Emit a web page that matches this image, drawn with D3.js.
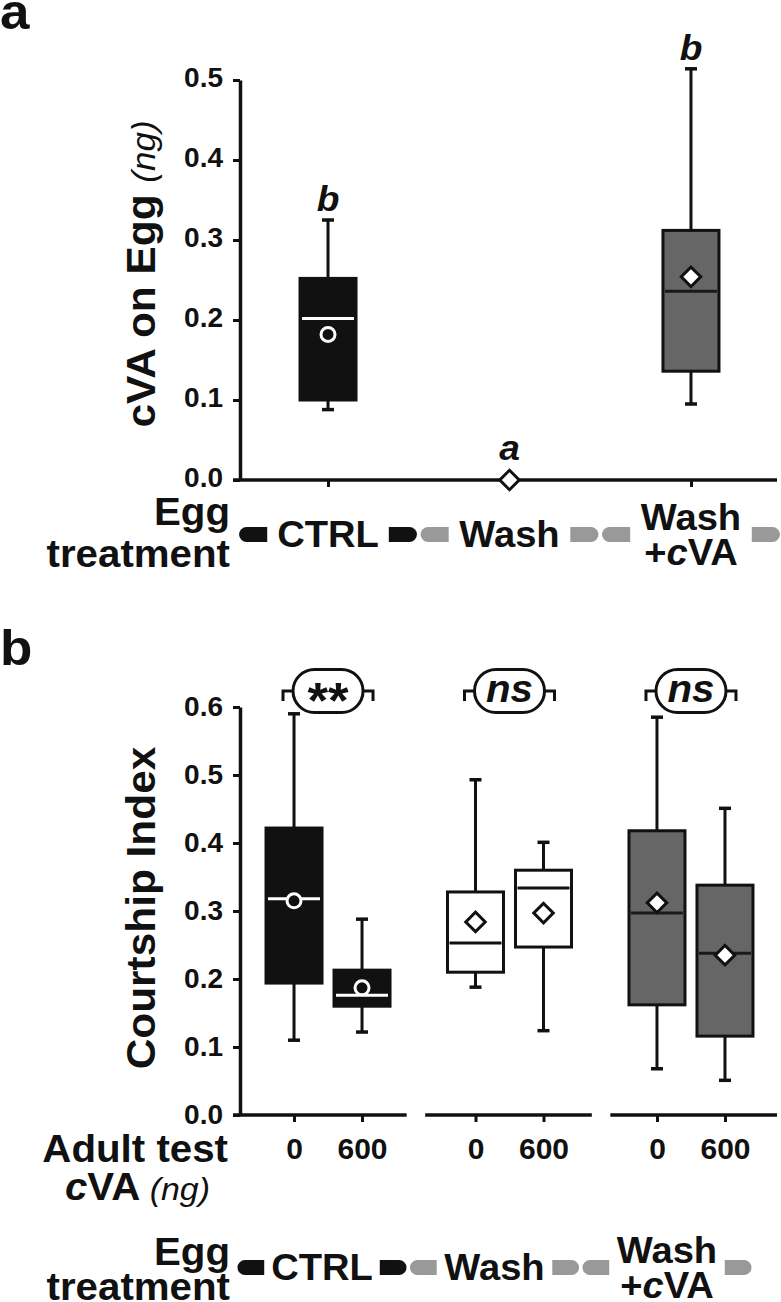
<!DOCTYPE html>
<html>
<head>
<meta charset="utf-8">
<script src="https://cdn.jsdelivr.net/npm/d3@7"></script>
<style>
    body { margin: 0; background: #fff; }
    svg text { font-family: "Liberation Sans", Arial, Helvetica, sans-serif; fill: #111; }
</style>
</head>
<body>
<div id="chart"></div>
<script>
// Egg treatments (shared by both panels)
var treatments = ['CTRL', 'Wash', 'Wash+cVA'];
var treatment_lines = [['CTRL'], ['Wash'], ['Wash', '+cVA']];

// Panel a: cVA on egg (ng), box stats per treatment
var egg_low    = [0.088, 0, 0.095];
var egg_q1     = [0.100, 0, 0.136];
var egg_median = [0.202, 0, 0.236];
var egg_q3     = [0.252, 0, 0.312];
var egg_high   = [0.325, 0, 0.514];
var egg_mean   = [0.182, 0, 0.254];
var egg_letters = ['b', 'a', 'b'];
var egg_ticks  = [0, 0.1, 0.2, 0.3, 0.4, 0.5];

// Panel b: courtship index, 0 / 600 ng adult cVA within each egg treatment
var doses       = ['0', '600'];
var ci_low      = [0.110, 0.122, 0.188, 0.124, 0.068, 0.051];
var ci_q1       = [0.194, 0.160, 0.210, 0.247, 0.162, 0.116];
var ci_median   = [0.318, 0.176, 0.253, 0.334, 0.297, 0.238];
var ci_q3       = [0.422, 0.213, 0.328, 0.360, 0.418, 0.338];
var ci_high     = [0.590, 0.288, 0.493, 0.401, 0.585, 0.451];
var ci_mean     = [0.315, 0.187, 0.284, 0.297, 0.312, 0.235];
var ci_sig      = ['**', 'ns', 'ns'];
var ci_ticks    = [0, 0.1, 0.2, 0.3, 0.4, 0.5, 0.6];

// Styles per treatment
var box_fills     = ['#111111', '#ffffff', '#666666'];
var median_colors = ['#ffffff', '#111111', '#1a1a1a'];
var mean_markers  = ['circle', 'diamond', 'diamond'];
var pill_colors   = ['#111111', '#999999', '#999999'];

var text_stretch = 1.06;
var box_w = 56;
var cap_w = 12;

var svg = d3.select('#chart')
    .append('svg')
    .attr('width', 781)
    .attr('height', 1302);

function add_text(parent, x, y, size, anchor, rotate) {
    var tr = 'translate(' + x + ',' + y + ')' + (rotate ? ' rotate(' + rotate + ')' : '') +
        ' scale(' + text_stretch + ',1)';
    return parent.append('text')
        .attr('transform', tr)
        .attr('text-anchor', anchor || 'middle')
        .style('font-size', size + 'px')
        .style('font-weight', 'bold');
}

// writes a string, putting the c of "cVA" in italics
function write_cva(text, str) {
    var parts = str.split('cVA');
    parts.forEach(function(p, i) {
        if (p) text.append('tspan').text(p);
        if (i < parts.length - 1) {
            text.append('tspan').style('font-style', 'italic').text('c');
            text.append('tspan').text('VA');
        }
    });
    return text;
}

function style_axis(g, size) {
    g.select('.domain').attr('stroke', '#111').attr('stroke-width', 3.5);
    g.selectAll('.tick line').attr('stroke', '#111').attr('stroke-width', 3);
    g.selectAll('.tick text')
        .style('font-size', size + 'px')
        .style('font-weight', 'bold')
        .attr('fill', '#111');
}

function draw_box(g, cx, y, d, i) {
    var half = box_w / 2;
    var line_col = '#111';
    if (d.q3 > d.q1) {
        // whiskers
        [[d.q3, d.high], [d.q1, d.low]].forEach(function(w) {
            g.append('line')
                .attr('x1', cx).attr('x2', cx)
                .attr('y1', y(w[0])).attr('y2', y(w[1]))
                .attr('stroke', line_col).attr('stroke-width', 3);
            g.append('line')
                .attr('x1', cx - cap_w / 2).attr('x2', cx + cap_w / 2)
                .attr('y1', y(w[1])).attr('y2', y(w[1]))
                .attr('stroke', line_col).attr('stroke-width', 3.5);
        });
        g.append('rect')
            .attr('x', cx - half)
            .attr('y', y(d.q3))
            .attr('width', box_w)
            .attr('height', y(d.q1) - y(d.q3))
            .attr('fill', box_fills[i])
            .attr('stroke', line_col)
            .attr('stroke-width', 3);
        g.append('line')
            .attr('x1', cx - half + 2).attr('x2', cx + half - 2)
            .attr('y1', y(d.median)).attr('y2', y(d.median))
            .attr('stroke', median_colors[i]).attr('stroke-width', 3);
    }
    // mean marker
    if (mean_markers[i] === 'circle') {
        g.append('circle')
            .attr('cx', cx).attr('cy', y(d.mean)).attr('r', 7)
            .attr('fill', '#111').attr('stroke', '#fff').attr('stroke-width', 3);
    } else {
        g.append('path')
            .attr('d', d3.symbol().type(d3.symbolSquare).size(190)())
            .attr('transform', 'translate(' + cx + ',' + y(d.mean) + ') rotate(45)')
            .attr('fill', '#fff').attr('stroke', '#111').attr('stroke-width', 3);
    }
}

// half-rounded bar used in the egg treatment rows
function pill_path(x0, x1, yc, h, side) {
    var r = h / 2;
    if (side === 'left') {
        return 'M' + (x0 + r) + ',' + (yc - r) + 'H' + x1 + 'V' + (yc + r) + 'H' + (x0 + r) +
            'A' + r + ',' + r + ' 0 0 1 ' + (x0 + r) + ',' + (yc - r) + 'Z';
    }
    return 'M' + x0 + ',' + (yc - r) + 'H' + (x1 - r) +
        'A' + r + ',' + r + ' 0 0 1 ' + (x1 - r) + ',' + (yc + r) + 'H' + x0 + 'Z';
}

function draw_treatment_row(scale, baseline, egg_y, treat_y) {
    var step = scale.step();
    var gap = 0.335 * step;
    var pw = 0.155 * step;
    var g = svg.append('g');
    treatments.forEach(function(t, i) {
        var cx = scale(t);
        var yc = baseline - 12.5;
        g.append('path').attr('d', pill_path(cx - gap - pw, cx - gap, yc, 15, 'left')).attr('fill', pill_colors[i]);
        g.append('path').attr('d', pill_path(cx + gap, cx + gap + pw, yc, 15, 'right')).attr('fill', pill_colors[i]);
        var lines = treatment_lines[i];
        lines.forEach(function(l, j) {
            var dy = lines.length === 1 ? 0 : (j === 0 ? -17 : 18);
            write_cva(add_text(g, cx, baseline + dy, 36, 'middle'), l);
        });
    });
    add_text(g, 230, egg_y, 38, 'end').text('Egg');
    add_text(g, 230, treat_y, 38, 'end').text('treatment');
}

// ---------- Panel a ----------
var x_top = d3.scalePoint()
    .domain(treatments)
    .range([240, 779])
    .padding(0.485);

var y_top = d3.scaleLinear()
    .domain([0, 0.5])
    .range([480, 80]);

add_text(svg, 0, 29, 50, 'start').text('a');

var y_axis_top = svg.append('g')
    .attr('transform', 'translate(240,0)')
    .call(d3.axisLeft(y_top).tickValues(egg_ticks).tickFormat(d3.format('.1f'))
        .tickSize(7).tickSizeOuter(0).tickPadding(10));
style_axis(y_axis_top, 28);
y_axis_top.selectAll('.tick text').attr('dy', '0.22em');

var x_axis_top = svg.append('g')
    .attr('transform', 'translate(0,480)')
    .call(d3.axisBottom(x_top).tickSize(7).tickSizeOuter(0).tickFormat(''));
x_axis_top.select('.domain').attr('d', 'M233,0H777');
style_axis(x_axis_top, 28);

var title_a = add_text(svg, 155, 274, 40, 'middle', -90);
title_a.append('tspan').text('cVA on Egg ');
title_a.append('tspan').style('font-weight', 'normal').style('font-style', 'italic')
    .style('font-size', '33px').text('(ng)');

var boxes_top = svg.append('g');
treatments.forEach(function(t, i) {
    var d = {low: egg_low[i], q1: egg_q1[i], median: egg_median[i], q3: egg_q3[i],
        high: egg_high[i], mean: egg_mean[i]};
    draw_box(boxes_top, x_top(t), y_top, d, i);
    var ly = y_top(d.high) - (d.q3 > d.q1 ? 9 : 20);
    add_text(boxes_top, x_top(t), ly, 35, 'middle')
        .style('font-style', 'italic').text(egg_letters[i]);
});

draw_treatment_row(x_top, 547, 525, 567);

// ---------- Panel b ----------
var y_bot = d3.scaleLinear()
    .domain([0, 0.6])
    .range([1115, 707]);

var x_band = d3.scaleBand()
    .domain(treatments)
    .range([240, 777])
    .paddingInner(0.1);

add_text(svg, 0, 665, 50, 'start').text('b');

var y_axis_bot = svg.append('g')
    .attr('transform', 'translate(240,0)')
    .call(d3.axisLeft(y_bot).tickValues(ci_ticks).tickFormat(d3.format('.1f'))
        .tickSize(7).tickSizeOuter(0).tickPadding(10));
style_axis(y_axis_bot, 28);

var title_b = add_text(svg, 155, 908, 40, 'middle', -90).text('Courtship Index');

var boxes_bot = svg.append('g');
treatments.forEach(function(t, gi) {
    var cx = x_top(t);
    var x_dose = d3.scalePoint().domain(doses).range([cx - 34, cx + 34]);

    // axis segment under each treatment
    var seg = svg.append('g')
        .attr('transform', 'translate(0,1115)')
        .call(d3.axisBottom(x_dose).tickSize(7).tickSizeOuter(0).tickPadding(16));
    seg.select('.domain').attr('d', 'M' + (gi === 0 ? 233 : x_band(t)) + ',0H' + (x_band(t) + x_band.bandwidth()));
    style_axis(seg, 30);

    doses.forEach(function(dose, di) {
        var k = gi * 2 + di;
        var d = {low: ci_low[k], q1: ci_q1[k], median: ci_median[k], q3: ci_q3[k],
            high: ci_high[k], mean: ci_mean[k]};
        draw_box(boxes_bot, x_dose(dose), y_bot, d, gi);
    });

    // significance bracket
    var yc = y_bot(0.6) - 16;
    boxes_bot.append('path')
        .attr('d', 'M' + (cx - 45) + ',' + (yc + 10) + 'V' + yc + 'H' + (cx - 35) +
            'M' + (cx + 35) + ',' + yc + 'H' + (cx + 45) + 'V' + (yc + 10))
        .attr('fill', 'none').attr('stroke', '#111').attr('stroke-width', 3);
    boxes_bot.append('rect')
        .attr('x', cx - 35).attr('y', yc - 21.5)
        .attr('width', 70).attr('height', 43).attr('rx', 21.5)
        .attr('fill', '#fff').attr('stroke', '#111').attr('stroke-width', 3);
    if (ci_sig[gi] === '**') {
        add_text(boxes_bot, cx, yc + 27, 50, 'middle').text(ci_sig[gi]);
    } else {
        add_text(boxes_bot, cx, yc + 11, 38, 'middle').style('font-style', 'italic').text(ci_sig[gi]);
    }
});

add_text(svg, 228, 1162, 38, 'end').text('Adult test');
var dose_label = add_text(svg, 210, 1200, 38, 'end');
write_cva(dose_label, 'cVA');
dose_label.append('tspan').style('font-weight', 'normal').style('font-style', 'italic')
    .style('font-size', '32px').text(' (ng)');

var x_legend_bot = d3.scalePoint().domain(treatments).range([322, 667]);
draw_treatment_row(x_legend_bot, 1280, 1265, 1300);
</script>
</body>
</html>
